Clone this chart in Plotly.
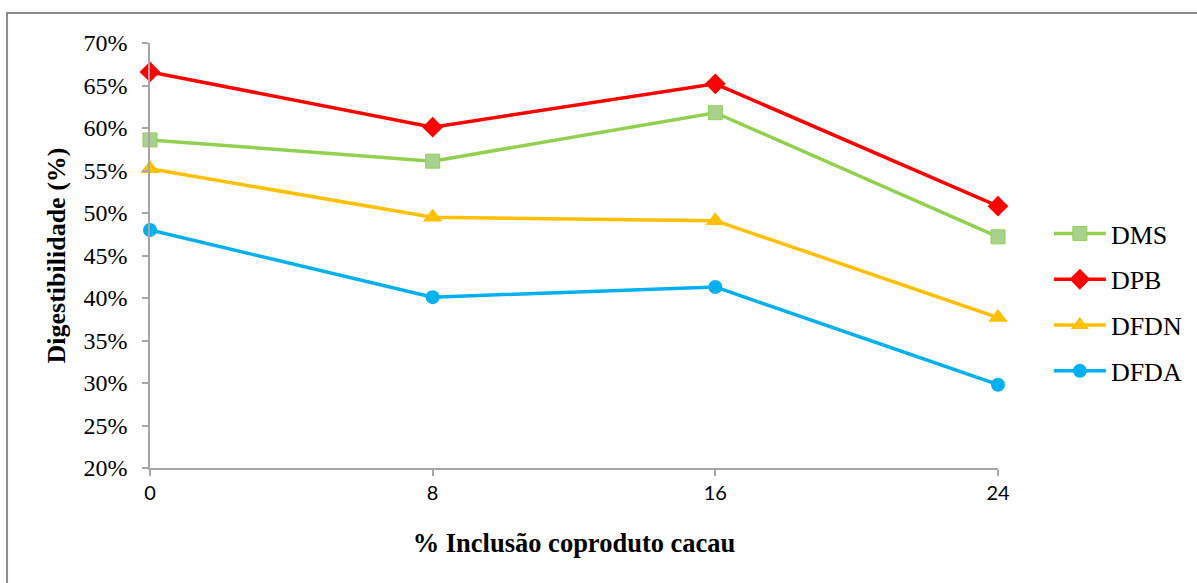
import plotly.graph_objects as go

# Inclusion levels of cocoa co-product (%)
inclusao = [0, 8, 16, 24]

# Digestibility (%) per fraction
dms = [58.6, 56.1, 61.8, 47.2]
dpb = [66.6, 60.1, 65.2, 50.8]
dfdn = [55.2, 49.5, 49.1, 37.7]
dfda = [48.0, 40.1, 41.3, 29.8]

y_ticks = [20, 25, 30, 35, 40, 45, 50, 55, 60, 65, 70]
y_tick_text = [f"{v}%" for v in y_ticks]

serif = "Times New Roman, Liberation Serif, DejaVu Serif, serif"

series = [
    ("DMS", dms, "#92D050", dict(symbol="square", size=14, color="#A9D18E",
                                 line=dict(color="#92D050", width=1))),
    ("DPB", dpb, "#FF0000", dict(symbol="diamond", size=16, color="#FF0000")),
    ("DFDN", dfdn, "#FFC000", dict(symbol="triangle-up", size=17, color="#FFC000")),
    ("DFDA", dfda, "#00B0F0", dict(symbol="circle", size=14, color="#00B0F0")),
]

fig = go.Figure()
for name, vals, color, marker in series:
    fig.add_trace(go.Scatter(
        x=inclusao, y=vals, name=name, mode="lines+markers",
        line=dict(color=color, width=3.5), marker=marker,
        legendgroup=name, cliponaxis=False,
    ))

axis_color = "#A6A6A6"
fig.update_layout(
    width=1197, height=583,
    margin=dict(l=150, r=199, t=43, b=115, autoexpand=False),
    paper_bgcolor="white", plot_bgcolor="white",
    showlegend=True,
    legend=dict(
        x=1.06, y=0.607, xanchor="left", yanchor="top",
        font=dict(family=serif, size=26, color="black"),
        tracegroupgap=9, itemwidth=52,
        bgcolor="rgba(0,0,0,0)",
    ),
    xaxis=dict(
        range=[0, 24], tickvals=inclusao, ticktext=[str(v) for v in inclusao],
        showgrid=False, zeroline=False, showline=True,
        linecolor=axis_color, linewidth=1.5,
        ticks="outside", ticklen=6, tickcolor=axis_color, tickwidth=1.5,
        tickfont=dict(family="Lato", size=20, color="black"),
        title=dict(text="<b>% Inclusão coproduto cacau</b>",
                   font=dict(family=serif, size=26.5, color="black"),
                   standoff=31),
    ),
    yaxis=dict(
        range=[20, 70], tickvals=y_ticks, ticktext=y_tick_text,
        showgrid=False, zeroline=False, showline=True,
        linecolor=axis_color, linewidth=1.5,
        ticks="outside", ticklen=6, tickcolor=axis_color, tickwidth=1.5,
        tickfont=dict(family=serif, size=24, color="black"),
        ticklabelstandoff=10,
        title=dict(text="<b>Digestibilidade (%)</b>",
                   font=dict(family=serif, size=26, color="black"),
                   standoff=10),
    ),
    shapes=[dict(
        type="rect", xref="paper", yref="paper",
        x0=-0.1686, x1=1.4, y0=-0.6, y1=1.0706,
        line=dict(color="#8C8C8C", width=2), layer="below",
    )],
)

fig.write_html("out.html")
